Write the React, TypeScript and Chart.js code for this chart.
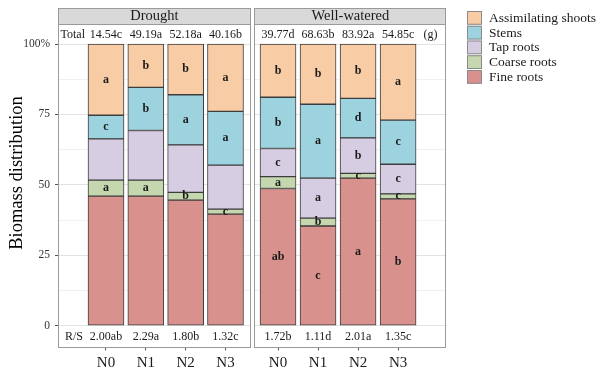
import React, { useEffect, useRef } from 'react';
import { Chart, registerables } from 'chart.js';

Chart.register(...registerables);

const SERIF = '"Liberation Serif", "Times New Roman", serif';

// Categories and series
const nitrogenLevels = ['N0', 'N1', 'N2', 'N3'];
const partNames = ['Fine roots', 'Coarse roots', 'Tap roots', 'Stems', 'Assimilating shoots'];
const partColors = ['#D9918D', '#C5D7AE', '#D7CDE3', '#9DD3DF', '#F8CCA4'];

// Drought (% of biomass)
const droughtFine = [46.0, 46.0, 44.6, 39.6];
const droughtCoarse = [5.7, 5.7, 2.7, 1.8];
const droughtTap = [14.6, 17.6, 16.9, 15.6];
const droughtStems = [8.4, 15.3, 17.8, 19.1];
const droughtShoots = [25.3, 15.4, 18.0, 23.9];

// Well-watered (% of biomass)
const wetFine = [48.7, 35.4, 52.4, 45.0];
const wetCoarse = [4.2, 2.8, 1.7, 1.8];
const wetTap = [10.0, 14.2, 12.6, 10.5];
const wetStems = [18.2, 26.2, 14.0, 15.7];
const wetShoots = [18.9, 21.4, 19.3, 27.0];

// Significance letters, bottom part first
const droughtLetters = [
  ['', '', '', ''],
  ['a', 'a', 'b', 'c'],
  ['', '', '', ''],
  ['c', 'b', 'a', 'a'],
  ['a', 'b', 'b', 'a'],
];
const wetLetters = [
  ['ab', 'c', 'a', 'b'],
  ['a', 'b', 'c', 'c'],
  ['c', 'a', 'b', 'c'],
  ['b', 'a', 'd', 'c'],
  ['b', 'b', 'b', 'a'],
];

// Total biomass and root/shoot ratios
const droughtTotals = ['14.54c', '49.19a', '52.18a', '40.16b'];
const wetTotals = ['39.77d', '68.63b', '83.92a', '54.85c'];
const droughtRatios = ['2.00ab', '2.29a', '1.80b', '1.32c'];
const wetRatios = ['1.72b', '1.11d', '2.01a', '1.35c'];

const yTickValues = [0, 25, 50, 75, 100];
const yTickLabels = ['0', '25', '50', '75', '100%'];

// Scale extents (panel extends a little beyond 0..100)
const Y_MIN = -7.74;
const Y_MAX = 107.1;

type PanelCfg = {
  title: string;
  series: number[][];
  letters: string[][];
  totals: string[];
  ratios: string[];
  left: boolean;
  xMin: number;
  xMax: number;
  padding: { left: number; right: number; top: number; bottom: number };
};

function makePlugin(cfg: PanelCfg) {
  return {
    id: 'panelDecor',
    beforeDraw(chart: any) {
      const { ctx, chartArea: a } = chart;
      ctx.save();
      ctx.fillStyle = '#ffffff';
      ctx.fillRect(a.left, a.top, a.right - a.left, a.bottom - a.top);
      ctx.restore();
    },
    afterDatasetsDraw(chart: any) {
      const { ctx } = chart;
      ctx.save();
      ctx.font = `bold 12px ${SERIF}`;
      ctx.fillStyle = '#1a1a1a';
      ctx.textAlign = 'center';
      ctx.textBaseline = 'middle';
      cfg.letters.forEach((row, di) => {
        const meta = chart.getDatasetMeta(di);
        row.forEach((txt, j) => {
          if (!txt) return;
          const el = meta.data[j];
          const { x, y, base } = el.getProps(['x', 'y', 'base'], true);
          ctx.fillText(txt, x, (y + base) / 2);
        });
      });
      ctx.restore();
    },
    afterDraw(chart: any) {
      const { ctx, chartArea: a } = chart;
      const xs = chart.scales.x;
      ctx.save();
      // panel border
      ctx.strokeStyle = '#9a9a9a';
      ctx.lineWidth = 1;
      ctx.strokeRect(Math.round(a.left) + 0.5, Math.round(a.top) + 0.5,
        Math.round(a.right - a.left) - 1, Math.round(a.bottom - a.top) - 1);
      // facet strip
      const stripTop = 8;
      ctx.fillStyle = '#d9d9d9';
      ctx.fillRect(Math.round(a.left), stripTop, Math.round(a.right - a.left), Math.round(a.top) - stripTop);
      ctx.strokeRect(Math.round(a.left) + 0.5, stripTop + 0.5,
        Math.round(a.right - a.left) - 1, Math.round(a.top) - stripTop);
      ctx.fillStyle = '#1a1a1a';
      ctx.font = `14.5px ${SERIF}`;
      ctx.textAlign = 'center';
      ctx.textBaseline = 'middle';
      ctx.fillText(cfg.title, (a.left + a.right) / 2, (stripTop + a.top) / 2 + 0.5);

      // totals and ratios rows
      ctx.font = `12px ${SERIF}`;
      const topRow = a.top + 10.5;
      const bottomRow = a.bottom - 10.5;
      nitrogenLevels.forEach((_, i) => {
        const px = xs.getPixelForValue(i + 1);
        ctx.fillText(cfg.totals[i], px, topRow);
        ctx.fillText(cfg.ratios[i], px, bottomRow);
      });
      if (cfg.left) {
        ctx.textAlign = 'left';
        ctx.fillText('Total', a.left + 2.5, topRow);
        ctx.fillText('R/S', a.left + 7, bottomRow);
        // y-axis title
        ctx.save();
        ctx.translate(17, 173);
        ctx.rotate(-Math.PI / 2);
        ctx.textAlign = 'center';
        ctx.font = `18.5px ${SERIF}`;
        ctx.fillStyle = '#000';
        ctx.fillText('Biomass distribution', 0, 0);
        ctx.restore();
      } else {
        ctx.textAlign = 'center';
        ctx.fillText('(g)', a.right - 16, topRow);
        // legend, top part first
        const keyX = 467;
        const rowH = 14.75;
        const firstTop = 10.5;
        ctx.font = `13.5px ${SERIF}`;
        ctx.textAlign = 'left';
        const order = chart.data.datasets.map((_: any, i: number) => i).reverse();
        order.forEach((di: number, k: number) => {
          const ds = chart.data.datasets[di];
          const top = firstTop + k * rowH;
          ctx.fillStyle = ds.backgroundColor;
          ctx.fillRect(keyX, top + 0.5, 15, rowH - 1);
          ctx.strokeStyle = '#8a8a8a';
          ctx.strokeRect(keyX + 0.5, top + 1, 14, rowH - 2);
          ctx.fillStyle = '#1a1a1a';
          ctx.fillText(ds.label, keyX + 22, top + rowH / 2 + 0.5);
        });
      }
      ctx.restore();
    },
  };
}

function buildChart(canvas: HTMLCanvasElement, cfg: PanelCfg) {
  const datasets = partNames.map((name, di) => ({
    label: name,
    data: cfg.series[di].map((v, i) => ({ x: i + 1, y: v })),
    backgroundColor: partColors[di],
    borderColor: '#3d3d3d',
    borderWidth: 1,
    borderSkipped: false,
    barThickness: 36,
  }));
  const minorGrid: number[] = [];
  yTickValues.forEach((v, i) => {
    minorGrid.push(v);
    if (i < yTickValues.length - 1) minorGrid.push((v + yTickValues[i + 1]) / 2);
  });
  return new Chart(canvas, {
    type: 'bar',
    data: { datasets } as any,
    plugins: [makePlugin(cfg)],
    options: {
      responsive: false,
      animation: false,
      devicePixelRatio: 1,
      layout: { padding: cfg.padding },
      plugins: { legend: { display: false }, tooltip: { enabled: false } },
      scales: {
        x: {
          type: 'linear',
          stacked: true,
          offset: false,
          min: cfg.xMin,
          max: cfg.xMax,
          afterBuildTicks: (s: any) => {
            s.ticks = nitrogenLevels.map((_, i) => ({ value: i + 1 }));
          },
          afterFit: (s: any) => {
            s.height = 22.5;
          },
          ticks: {
            autoSkip: false,
            maxRotation: 0,
            padding: 3.5,
            color: '#1a1a1a',
            font: { family: SERIF, size: 15 },
            callback: (v: any) => nitrogenLevels[Math.round(v) - 1] ?? '',
          },
          grid: { drawOnChartArea: false, offset: false, tickLength: 3, tickColor: '#555' },
          border: { display: false },
        },
        y: {
          type: 'linear',
          stacked: true,
          min: Y_MIN,
          max: Y_MAX,
          afterBuildTicks: (s: any) => {
            s.ticks = minorGrid.map((v) => ({ value: v }));
          },
          afterFit: (s: any) => {
            s.width = cfg.left ? 58 : 0;
          },
          ticks: {
            display: cfg.left,
            padding: 5,
            color: '#333',
            font: { family: SERIF, size: 11.5 },
            callback: (v: any) => {
              const k = yTickValues.indexOf(v);
              return k >= 0 ? yTickLabels[k] : '';
            },
          },
          grid: {
            color: (c: any) => (c.tick && yTickValues.includes(c.tick.value) ? '#e3e3e3' : '#f0f0f0'),
            drawTicks: cfg.left,
            tickLength: 3,
            tickColor: (c: any) => (c.tick && yTickValues.includes(c.tick.value) ? '#555' : 'rgba(0,0,0,0)'),
          },
          border: { display: false },
        },
      },
    } as any,
  });
}

export default function App() {
  const leftRef = useRef<HTMLCanvasElement>(null);
  const rightRef = useRef<HTMLCanvasElement>(null);

  useEffect(() => {
    const left = buildChart(leftRef.current!, {
      title: 'Drought',
      series: [droughtFine, droughtCoarse, droughtTap, droughtStems, droughtShoots],
      letters: droughtLetters,
      totals: droughtTotals,
      ratios: droughtRatios,
      left: true,
      xMin: -0.205,
      xMax: 4.633,
      padding: { left: 0, right: 352.3, top: 24, bottom: 0 },
    });
    const right = buildChart(rightRef.current!, {
      title: 'Well-watered',
      series: [wetFine, wetCoarse, wetTap, wetStems, wetShoots],
      letters: wetLetters,
      totals: wetTotals,
      ratios: wetRatios,
      left: false,
      xMin: 0.4075,
      xMax: 5.21,
      padding: { left: 254.3, right: 156.5, top: 24, bottom: 0 },
    });
    return () => {
      left.destroy();
      right.destroy();
    };
  }, []);

  const canvasStyle: React.CSSProperties = { position: 'absolute', left: 0, top: 0 };
  return (
    <div style={{ position: 'fixed', left: 0, top: 0, width: 603, height: 370, background: '#fff' }}>
      <canvas ref={leftRef} width={603} height={370} style={canvasStyle} />
      <canvas ref={rightRef} width={603} height={370} style={canvasStyle} />
    </div>
  );
}
